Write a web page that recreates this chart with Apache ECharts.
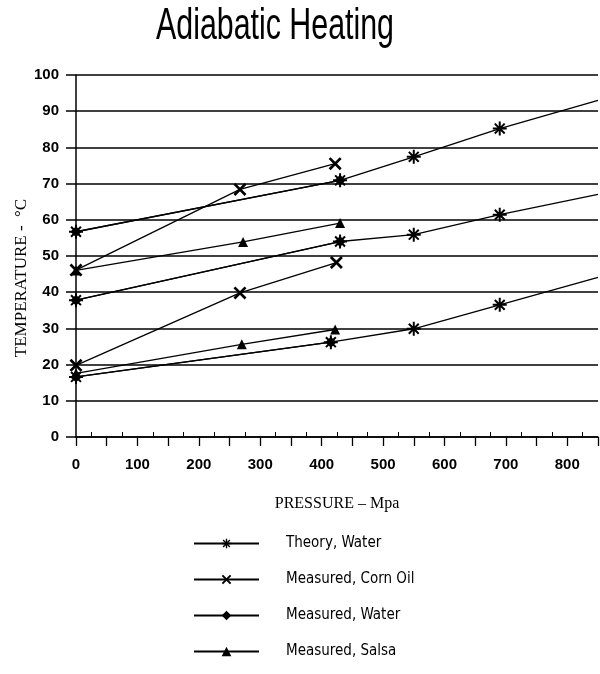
<!DOCTYPE html>
<html>
<head>
<meta charset="utf-8">
<title>Adiabatic Heating</title>
<script src="https://cdn.jsdelivr.net/npm/echarts@6/dist/echarts.min.js"></script>
<style>
    html, body { margin: 0; padding: 0; background: #fff; }
    #heatChart { width: 600px; height: 674px; }
</style>
</head>
<body>
<div id="heatChart"></div>
<script>
    // theory, water (3 starting temperatures)
    var theoryX = [0, 430, 550, 690, 850];
    var theoryHigh = [56.7, 70.9, 77.4, 85.2, 93.0];
    var theoryMid = [37.8, 54.0, 55.9, 61.4, 67.0];
    var theoryLowX = [0, 415, 550, 690, 850];
    var theoryLow = [16.6, 26.2, 29.9, 36.5, 44.1];

    // measured, water
    var waterX = [0, 430];
    var waterHigh = [56.7, 70.9];
    var waterMid = [37.8, 54.0];
    var waterLowX = [0, 415];
    var waterLow = [16.6, 26.2];

    // measured, corn oil
    var cornHighX = [0, 267, 422];
    var cornHigh = [46.1, 68.4, 75.5];
    var cornLowX = [0, 267, 424];
    var cornLow = [19.8, 39.8, 48.2];

    // measured, salsa
    var salsaHighX = [0, 272, 430];
    var salsaHigh = [46.0, 53.9, 59.1];
    var salsaLowX = [0, 270, 422];
    var salsaLow = [17.6, 25.6, 29.7];

    var legendNames = ['Theory, Water', 'Measured, Corn Oil', 'Measured, Water', 'Measured, Salsa'];

    var starPath = 'path://M0 6L14 6L14 8L0 8Z M6 0L8 0L8 14L6 14Z M1.34 2.76L2.76 1.34L12.66 11.24L11.24 12.66Z M11.24 1.34L12.66 2.76L2.76 12.66L1.34 11.24Z';
    var crossPath = 'path://M1.2 2.9L2.9 1.2L12.8 11.1L11.1 12.8Z M11.1 1.2L12.8 2.9L2.9 12.8L1.2 11.1Z';

    var narrow = "'DejaVu Sans Condensed', 'Liberation Sans', sans-serif";
    var sans = "'Liberation Sans', Arial, sans-serif";
    var serif = "'Liberation Serif', 'Times New Roman', serif";

    function zip(xs, ys) {
        return xs.map(function (x, i) {
            var item = { value: [x, ys[i]] };
            // last theory point only carries the line to the edge
            if (x === 850) {
                item.symbol = 'none';
            }
            return item;
        });
    }

    function makeLine(name, xs, ys, symbol, size) {
        return {
            name: name,
            type: 'line',
            data: zip(xs, ys),
            symbol: symbol,
            symbolSize: size,
            showSymbol: true,
            color: '#000',
            lineStyle: { color: '#000', width: 1.3 },
            itemStyle: { color: '#000' },
            animation: false
        };
    }

    var heatChart = echarts.init(document.getElementById('heatChart'));
    heatChart.setOption({
        backgroundColor: '#fff',
        // title squeezed horizontally like the scanned original
        graphic: [{
            type: 'text',
            x: 275,
            y: 5,
            scaleX: 0.69,
            style: {
                text: 'Adiabatic Heating',
                font: 'normal 44px ' + sans,
                fill: '#000',
                align: 'center',
                verticalAlign: 'top'
            }
        }],
        legend: {
            data: legendNames,
            orient: 'vertical',
            left: 188,
            top: 531,
            itemWidth: 65,
            itemHeight: 12,
            itemGap: 21,
            textStyle: { fontFamily: narrow, fontSize: 15, color: '#000', padding: [0, 0, 0, 22] }
        },
        grid: { left: 76, right: 2, top: 75, bottom: 237, outerBoundsMode: 'none' },
        xAxis: [{
            type: 'value',
            min: 0,
            max: 850,
            interval: 50,
            name: 'PRESSURE \u2013 Mpa',
            nameLocation: 'middle',
            nameGap: 59,
            nameMoveOverlap: false,
            nameTextStyle: { fontFamily: serif, fontSize: 16, color: '#000' },
            axisLine: { show: true, lineStyle: { color: '#000', width: 1.5 } },
            axisTick: { show: true, length: 9, lineStyle: { color: '#000', width: 1.3 } },
            axisLabel: {
                margin: 20,
                fontFamily: sans,
                fontSize: 15,
                fontWeight: 'bold',
                color: '#000',
                formatter: function (v) { return v % 100 === 0 && v < 850 ? v : ''; }
            },
            splitLine: { show: false }
        }, {
            type: 'value',
            min: 0,
            max: 850,
            interval: 50,
            position: 'bottom',
            axisLine: { show: false },
            axisTick: { show: false, inside: true },
            minorTick: { show: true, splitNumber: 2, length: 5, lineStyle: { color: '#000', width: 1 } },
            axisLabel: { show: false },
            splitLine: { show: false }
        }],
        yAxis: {
            type: 'value',
            min: 0,
            max: 100,
            interval: 10,
            name: 'TEMPERATURE -  \u00B0C',
            nameLocation: 'middle',
            nameGap: 46,
            nameMoveOverlap: false,
            nameTextStyle: { fontFamily: serif, fontSize: 17, color: '#000', padding: [0, 44, 0, 0] },
            axisLine: { show: true, lineStyle: { color: '#000', width: 1.5 } },
            axisTick: { show: true, length: 10, lineStyle: { color: '#000', width: 1.5 } },
            axisLabel: { margin: 17, fontFamily: sans, fontSize: 15, fontWeight: 'bold', color: '#000' },
            splitLine: { show: true, lineStyle: { color: '#000', width: 1.5 } }
        },
        series: [
            makeLine(legendNames[0], theoryX, theoryHigh, starPath, 14),
            makeLine(legendNames[0], theoryX, theoryMid, starPath, 14),
            makeLine(legendNames[0], theoryLowX, theoryLow, starPath, 14),
            makeLine(legendNames[1], cornHighX, cornHigh, crossPath, 13),
            makeLine(legendNames[1], cornLowX, cornLow, crossPath, 13),
            makeLine(legendNames[2], waterX, waterHigh, 'diamond', 11),
            makeLine(legendNames[2], waterX, waterMid, 'diamond', 11),
            makeLine(legendNames[2], waterLowX, waterLow, 'diamond', 11),
            makeLine(legendNames[3], salsaHighX, salsaHigh, 'triangle', 10),
            makeLine(legendNames[3], salsaLowX, salsaLow, 'triangle', 10)
        ]
    });
</script>
</body>
</html>
